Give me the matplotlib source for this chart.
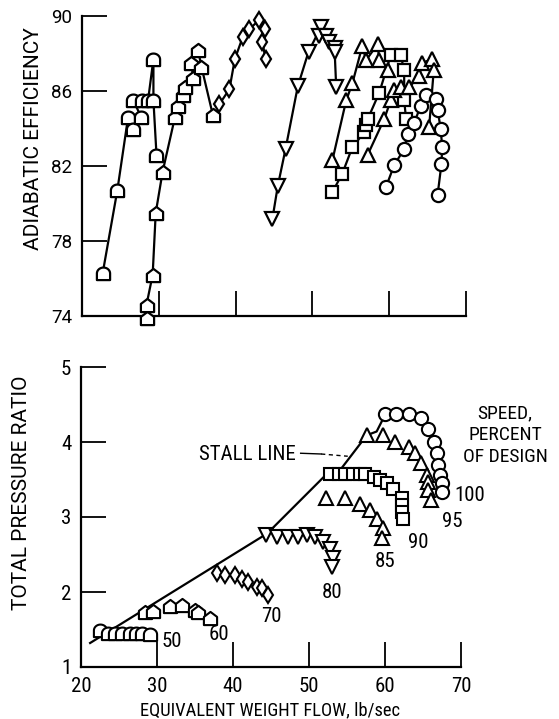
import numpy as np
import matplotlib
matplotlib.use('Agg')
import matplotlib.pyplot as plt
from matplotlib.path import Path
from matplotlib import font_manager as fm

# pick the narrowest available regular sans face
_entries = [f for f in fm.fontManager.ttflist if f.style == 'normal']
_choice = None
for pref in ('Liberation Sans Narrow',):
    if any(f.name == pref for f in _entries):
        _choice = (pref, 'normal')
if _choice is None:
    for fam in ('Roboto', 'Noto Sans', 'Open Sans', 'DejaVu Sans', 'Liberation Sans'):
        for st in ('condensed', 'semi-condensed'):
            hits = [f for f in _entries if f.stretch == st and fam in f.name and f.weight in (400, 'normal', 'regular')]
            if hits:
                _choice = (hits[0].name, st)
                break
        if _choice:
            break
if _choice is None:
    _choice = ('Roboto', 'normal')
plt.rcParams['font.family'] = [_choice[0], 'DejaVu Sans']
plt.rcParams['font.stretch'] = _choice[1]
REG = dict(family=['Roboto', 'DejaVu Sans'], fontstretch='normal')

# ---------------- data: top panel (adiabatic efficiency) ----------------
flow50_eff = [22.7, 24.6, 26.0, 26.7, 27.7, 26.7, 27.8, 28.6, 29.3, 29.3, 29.7]
eff50 = [76.3, 80.7, 84.6, 84.0, 84.6, 85.5, 85.5, 85.5, 87.7, 85.5, 82.6]
flow60_eff = [28.4, 28.4, 29.2, 29.6, 30.5, 32.1, 32.5, 33.2, 33.4, 34.45, 34.25, 35.1, 35.55, 37.05]
eff60 = [73.9, 74.6, 76.2, 79.5, 81.7, 84.6, 85.2, 85.8, 86.2, 86.7, 87.5, 88.2, 87.3, 84.7]
flow70_eff = [37.9, 39.2, 39.9, 40.95, 41.8, 43.1, 43.8, 43.5, 43.9]
eff70 = [85.3, 86.1, 87.7, 88.9, 89.3, 89.8, 89.3, 88.6, 87.7]
flow80_eff = [44.8, 45.5, 46.5, 48.1, 49.5, 51.1, 50.9, 51.8, 52.2, 52.9, 52.9, 53.1]
eff80 = [79.2, 80.95, 82.9, 86.25, 88.1, 89.4, 88.95, 88.95, 88.6, 88.3, 88.1, 86.2]
flow85_eff = [52.6, 54.4, 55.2, 56.5, 57.0, 58.5, 58.7, 59.8]
eff85 = [82.3, 85.5, 86.4, 88.4, 87.65, 88.5, 87.65, 87.1]
flow90_eff = [52.6, 53.9, 55.2, 56.75, 57.0, 57.2, 58.7, 60.2, 61.5, 61.95, 61.95, 62.2]
eff90 = [80.6, 81.6, 83.0, 83.8, 84.2, 84.5, 85.9, 87.9, 87.9, 87.1, 85.5, 84.5]
flow95_eff = [57.2, 59.35, 60.2, 60.65, 61.5, 62.6, 63.9, 64.3, 65.6, 65.8, 65.2]
eff95 = [82.6, 84.5, 85.5, 86.05, 86.2, 86.2, 86.8, 87.5, 87.7, 87.1, 84.1]
flow100_eff = [59.6, 60.65, 61.95, 62.4, 63.25, 64.1, 64.8, 66.1, 66.3, 66.7, 66.9, 66.8, 66.3]
eff100 = [80.9, 82.05, 82.9, 83.7, 84.3, 85.2, 85.8, 85.6, 85.0, 84.0, 83.0, 82.1, 80.45]

# ---------------- data: bottom panel (total pressure ratio) ----------------
flow50_pr = [22.5, 23.6, 24.5, 25.4, 26.45, 27.3, 28.0, 29.1]
pr50 = [1.50, 1.46, 1.46, 1.46, 1.46, 1.46, 1.46, 1.44]
flow60_pr = [28.4, 29.5, 31.7, 33.25, 35.0, 35.4, 36.95]
pr60 = [1.73, 1.75, 1.81, 1.83, 1.76, 1.73, 1.66]
flow70_pr = [37.9, 38.95, 40.25, 41.15, 42.0, 43.1, 43.8, 44.65]
pr70 = [2.25, 2.23, 2.23, 2.18, 2.14, 2.07, 2.05, 1.96]
flow80_pr = [44.4, 45.75, 47.3, 48.6, 49.7, 50.8, 51.9, 52.75, 53.2, 53.0]
pr80 = [2.76, 2.74, 2.74, 2.74, 2.76, 2.74, 2.67, 2.58, 2.45, 2.34]
flow85_pr = [52.3, 54.7, 56.7, 58.0, 58.9, 59.8, 59.6]
pr85 = [3.25, 3.25, 3.18, 3.09, 2.98, 2.85, 2.72]
flow90_pr = [52.8, 53.9, 54.7, 55.8, 56.7, 57.4, 58.5, 59.3, 60.2, 61.1, 62.2, 62.2, 62.2, 62.4]
pr90 = [3.58, 3.58, 3.58, 3.58, 3.58, 3.58, 3.54, 3.49, 3.45, 3.38, 3.25, 3.16, 3.07, 2.98]
flow95_pr = [57.6, 59.8, 61.3, 63.1, 63.9, 64.8, 65.5, 65.7, 65.7, 66.1]
pr95 = [4.09, 4.09, 4.00, 3.94, 3.85, 3.72, 3.56, 3.47, 3.36, 3.23]
flow100_pr = [60.0, 61.5, 63.1, 64.8, 65.7, 66.4, 66.8, 67.0, 67.2, 67.5, 67.5]
pr100 = [4.38, 4.38, 4.38, 4.32, 4.18, 4.00, 3.85, 3.69, 3.56, 3.45, 3.34]

stall_flow = [21.2, 44.5, 52.4, 53.9, 57.6, 58.9, 60.1]
stall_pr = [1.32, 2.78, 3.58, 3.60, 4.09, 4.14, 4.38]

speed_labels = ['50', '60', '70', '80', '85', '90', '95', '100']
speed_label_flow = [31.9, 38.1, 45.1, 53.0, 60.0, 64.4, 68.8, 69.1]
speed_label_pr = [1.34, 1.43, 1.67, 2.00, 2.41, 2.66, 2.94, 3.29]

eff_ticks = [74, 78, 82, 86, 90]
pr_ticks = [1, 2, 3, 4, 5]
flow_ticks = [20, 30, 40, 50, 60, 70]

# ---------------- marker shapes ----------------
house = Path([(-0.5, -0.5), (0.5, -0.5), (0.5, 0.12), (0.0, 0.5), (-0.5, 0.12), (-0.5, -0.5)],
             [Path.MOVETO, Path.LINETO, Path.LINETO, Path.LINETO, Path.LINETO, Path.CLOSEPOLY])
t = np.linspace(0, np.pi, 25)
dome_verts = [(-0.5, -0.5), (0.5, -0.5)] + [(0.5 * np.cos(a), 0.5 * np.sin(a) * 0.9) for a in t] + [(-0.5, -0.5)]
dome = Path(dome_verts, [Path.MOVETO] + [Path.LINETO] * (len(dome_verts) - 2) + [Path.CLOSEPOLY])

mk = {'50': (dome, 9.5), '60': (house, 9.5), '70': ('d', 8.0), '80': ('v', 9.5),
      '85': ('^', 9.5), '90': ('s', 9.0), '95': ('^', 9.5), '100': ('o', 9.5)}

FS = 15

fig = plt.figure(figsize=(5.59, 7.19), dpi=100)
ax1 = fig.add_axes([82 / 559, 1 - 316 / 719, (466 - 82) / 559, 300 / 719])
ax2 = fig.add_axes([81 / 559, 1 - 667 / 719, 380 / 559, 300 / 719])

for ax in (ax1, ax2):
    for s in ('top', 'right'):
        ax.spines[s].set_visible(False)
    for s in ('left', 'bottom'):
        ax.spines[s].set_linewidth(1.6)
    ax.tick_params(direction='in', length=18, width=1.3, pad=7, labelsize=FS)
    ax.set_xlim(20, 70)

ax1.set_ylim(74, 90)
ax1.set_yticks(eff_ticks)
ax1.set_xticks(flow_ticks)
ax1.tick_params(axis='x', labelbottom=False)
for lab in ax1.get_yticklabels():
    lab.set_family(REG['family'])
    lab.set_fontstretch('normal')
    lab.set_fontsize(13.5)

ax2.set_ylim(1, 5)
ax2.set_yticks(pr_ticks)
ax2.set_xticks(flow_ticks)

top_series = [('50', flow50_eff, eff50), ('60', flow60_eff, eff60), ('70', flow70_eff, eff70),
              ('80', flow80_eff, eff80), ('85', flow85_eff, eff85), ('90', flow90_eff, eff90),
              ('95', flow95_eff, eff95), ('100', flow100_eff, eff100)]
for key, xs, ys in top_series:
    m, ms = mk[key]
    ax1.plot(xs, ys, '-', color='black', lw=1.6, zorder=2, clip_on=False)
    ax1.plot(xs, ys, linestyle='none', marker=m, ms=ms, mfc='white', mec='black', mew=1.6,
             zorder=3, clip_on=False)

bot_series = [('50', flow50_pr, pr50), ('60', flow60_pr, pr60), ('70', flow70_pr, pr70),
              ('80', flow80_pr, pr80), ('85', flow85_pr, pr85), ('90', flow90_pr, pr90),
              ('95', flow95_pr, pr95), ('100', flow100_pr, pr100)]
ax2.plot(stall_flow, stall_pr, '-', color='black', lw=1.6, zorder=2)
for key, xs, ys in bot_series:
    m, ms = mk[key]
    ax2.plot(xs, ys, linestyle='none', marker=m, ms=ms, mfc='white', mec='black', mew=1.5,
             zorder=3, clip_on=False)

for lab, x, y in zip(speed_labels, speed_label_flow, speed_label_pr):
    ha = 'left' if lab == '100' else 'center'
    ax2.text(x, y, lab, ha=ha, va='center', fontsize=FS, clip_on=False)

ax2.text(48.2, 3.83, 'STALL LINE', ha='right', va='center', fontsize=FS)
ax2.plot([48.9, 51.6], [3.85, 3.84], '-', color='black', lw=1.0)
ax2.plot([51.6, 55.1], [3.84, 3.81], '--', color='black', lw=1.0, dashes=(3, 2.5))
ax2.text(75.8, 4.09, 'SPEED,\nPERCENT\nOF DESIGN', ha='center', va='center',
         fontsize=14, linespacing=1.25, clip_on=False)

fig.text(34 / 559, 1 - 139 / 719, 'ADIABATIC EFFICIENCY', rotation=90, ha='center', va='center',
         fontsize=15, **REG)
fig.text(22 / 559, 1 - 493 / 719, 'TOTAL PRESSURE RATIO', rotation=90, ha='center', va='center',
         fontsize=15, **REG)
fig.text(270 / 559, 1 - 710 / 719, 'EQUIVALENT WEIGHT FLOW, lb/sec', ha='center', va='center',
         fontsize=13.3)

fig.savefig('out.png', dpi=100)
